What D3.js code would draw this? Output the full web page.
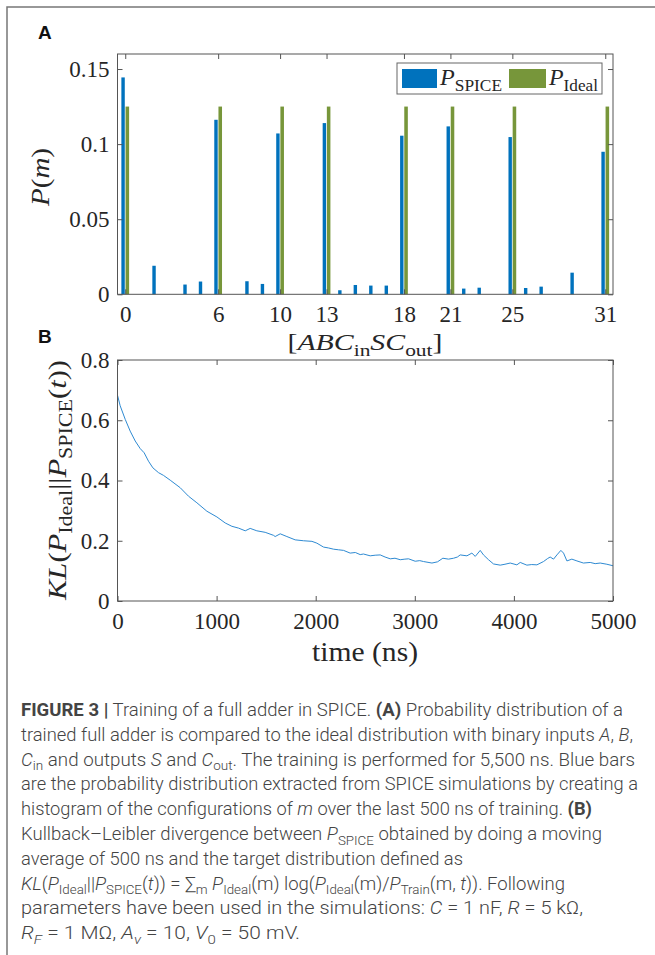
<!DOCTYPE html>
<html>
    <head>
        <meta charset="utf-8">
        <script src="https://d3js.org/d3.v7.min.js"></script>
        <style>
            body { margin: 0; background-color: white }
            svg { display: block }
        </style>
        <title>Full adder training</title>
    </head>
    <body>
        <script>
            var width = 655;
            var height = 955;

            // Panel A data: configuration index m and probabilities
            var configs = [0,1,2,3,4,5,6,7,8,9,10,11,12,13,14,15,16,17,18,19,20,21,22,23,24,25,26,27,28,29,30,31];
            var pSpice = [0.1444,0,0.0190,0,0.0065,0.0085,0.1162,0,0.0087,0.0069,0.1071,0,0,0.1140,0.0027,0.0062,
                          0.0058,0.0058,0.1056,0,0,0.1118,0.0038,0.0044,0,0.1047,0.0042,0.0051,0,0.0144,0,0.0949];
            var pIdeal = [0.125,0,0,0,0,0,0.125,0,0,0,0.125,0,0,0.125,0,0,
                          0,0,0.125,0,0,0.125,0,0,0,0.125,0,0,0,0,0,0.125];
            var xTicksA = [0,6,10,13,18,21,25,31];
            var yTicksA = [0,0.05,0.1,0.15];

            // Panel B data: KL divergence over time
            var klTime = [0,27,78,128,179,229,269,313,357,414,464,532,633,716,801,902,1003,1087,1154,1221,
                          1289,1339,1406,1490,1574,1591,1642,1709,1793,1877,1962,2012,2079,2130,2180,2230,2281,
                          2348,2400,2449,2482,2550,2600,2651,2700,2752,2800,2853,2900,2937,3004,3050,3088,3173,
                          3229,3283,3340,3391,3430,3458,3526,3576,3610,3660,3693,3744,3794,3862,3910,3963,4030,
                          4064,4131,4180,4232,4299,4340,4366,4400,4434,4474,4501,4535,4585,4636,4702,4770,4820,
                          4871,4938,5000];
            var klValue = [0.683,0.648,0.603,0.564,0.531,0.506,0.492,0.464,0.442,0.426,0.417,0.401,0.376,0.348,
                           0.326,0.298,0.279,0.259,0.248,0.242,0.233,0.241,0.233,0.228,0.218,0.214,0.223,0.214,
                           0.203,0.200,0.198,0.192,0.179,0.176,0.172,0.170,0.168,0.159,0.161,0.154,0.156,0.150,
                           0.152,0.153,0.146,0.140,0.142,0.137,0.139,0.140,0.132,0.134,0.131,0.126,0.130,0.142,
                           0.139,0.142,0.146,0.153,0.150,0.159,0.148,0.168,0.153,0.137,0.123,0.119,0.122,0.126,
                           0.120,0.128,0.119,0.121,0.120,0.131,0.141,0.146,0.139,0.153,0.168,0.159,0.133,0.139,
                           0.133,0.126,0.128,0.124,0.126,0.122,0.117];
            var xTicksB = [0,1000,2000,3000,4000,5000];
            var yTicksB = [0,0.2,0.4,0.6,0.8];

            // caption, one entry per line: [text, style] where i=italic b=bold s=subscript
            var caption = [
                [["FIGURE 3 |","b"],[" Training of a full adder in SPICE. ",""],["(A)","b"],[" Probability distribution of a",""]],
                [["trained full adder is compared to the ideal distribution with binary inputs ",""],["A","i"],[", ",""],["B","i"],[",",""]],
                [["C","i"],["in","s"],[" and outputs ",""],["S","i"],[" and ",""],["C","i"],["out","s"],[". The training is performed for 5,500 ns. Blue bars",""]],
                [["are the probability distribution extracted from SPICE simulations by creating a",""]],
                [["histogram of the configurations of ",""],["m","i"],[" over the last 500 ns of training. ",""],["(B)","b"]],
                [["Kullback–Leibler divergence between ",""],["P","i"],["SPICE","s"],[" obtained by doing a moving",""]],
                [["average of 500 ns and the target distribution defined as",""]],
                [["KL","i"],["(",""],["P","i"],["Ideal","s"],["||",""],["P","i"],["SPICE","s"],["(",""],["t","i"],[")) = ∑",""],["m","s"],[" ",""],["P","i"],["Ideal","s"],["(m) log(",""],["P","i"],["Ideal","s"],["(m)/",""],["P","i"],["Train","s"],["(m, ",""],["t","i"],[")). Following",""]],
                [["parameters have been used in the simulations: ",""],["C","i"],[" = 1 nF, ",""],["R","i"],[" = 5 kΩ,",""]],
                [["R","i"],["F","si"],[" = 1 MΩ, ",""],["A","i"],["v","si"],[" = 10, ",""],["V","i"],["0","s"],[" = 50 mV.",""]]
            ];
            var captionEnds = [623,633,635,638,592,602,463,565,583,300];

            var serif = "'Liberation Serif', 'Times New Roman', serif";
            var ink = "#262626";

            var svg = d3.select("body")
                .append("svg")
                .attr("width", width)
                .attr("height", height);

            svg.append("rect").attr("width", width).attr("height", height).attr("fill", "white");

            // page frame
            svg.append("path")
                .attr("d", "M7," + height + "V7H" + width)
                .attr("fill", "none")
                .attr("stroke", "#777")
                .attr("stroke-width", 1.5);

            // write text made of styled pieces
            function rich(sel, parts, size) {
                var shift = 0;
                parts.forEach(function (p) {
                    var sub = p[1].indexOf("s") >= 0;
                    var target = sub ? size * 0.25 : 0;
                    var t = sel.append("tspan").text(p[0]).attr("dy", target - shift);
                    shift = target;
                    if (sub) t.attr("font-size", size * 0.72);
                    if (p[1].indexOf("i") >= 0) t.attr("font-style", "italic");
                    if (p[1].indexOf("b") >= 0) t.attr("font-weight", "bold");
                });
            }

            function styleAxis(g) {
                g.select(".domain").remove();
                g.selectAll(".tick line").attr("stroke", "#555");
                g.selectAll("text")
                    .attr("font-family", serif)
                    .attr("font-size", 23)
                    .attr("fill", ink);
            }

            // ---------- Panel A ----------
            var xA = d3.scaleLinear().domain([-0.5, 31.5]).range([117.5, 613]);
            var yA = d3.scaleLinear().domain([0, 0.16]).range([294.3, 54]);

            var gA = svg.append("g");

            gA.selectAll(".spice")
                .data(configs)
                .enter()
                .append("rect")
                .attr("x", function (m) { return xA(m - 0.25); })
                .attr("width", function (m) { return xA(m - 0.03) - xA(m - 0.25); })
                .attr("y", function (m) { return yA(pSpice[m]); })
                .attr("height", function (m) { return yA(0) - yA(pSpice[m]); })
                .attr("fill", "#0072BD");

            gA.selectAll(".ideal")
                .data(configs)
                .enter()
                .append("rect")
                .attr("x", function (m) { return xA(m + 0.02); })
                .attr("width", function (m) { return xA(m + 0.25) - xA(m + 0.02); })
                .attr("y", function (m) { return yA(pIdeal[m]); })
                .attr("height", function (m) { return yA(0) - yA(pIdeal[m]); })
                .attr("fill", "#77963A");

            gA.append("g")
                .attr("transform", "translate(0," + yA(0) + ")")
                .call(d3.axisBottom(xA).tickValues(xTicksA).tickSize(-5).tickPadding(11))
                .call(styleAxis);
            gA.append("g")
                .attr("transform", "translate(0," + yA.range()[1] + ")")
                .call(d3.axisTop(xA).tickValues(xTicksA).tickSize(-5).tickFormat(""))
                .call(styleAxis);
            gA.append("g")
                .attr("transform", "translate(" + xA.range()[0] + ",0)")
                .call(d3.axisLeft(yA).tickValues(yTicksA).tickSize(-5).tickPadding(8)
                    .tickFormat(function (d) { return String(+d.toFixed(2)); }))
                .call(styleAxis);
            gA.append("g")
                .attr("transform", "translate(" + xA.range()[1] + ",0)")
                .call(d3.axisRight(yA).tickValues(yTicksA).tickSize(-5).tickFormat(""))
                .call(styleAxis);

            gA.append("rect")
                .attr("x", xA.range()[0]).attr("y", yA.range()[1])
                .attr("width", xA.range()[1] - xA.range()[0])
                .attr("height", yA.range()[0] - yA.range()[1])
                .attr("fill", "none").attr("stroke", "#555");

            // legend
            var leg = gA.append("g");
            leg.append("rect").attr("x", 397).attr("y", 63).attr("width", 205).attr("height", 31)
                .attr("fill", "white").attr("stroke", "#666");
            leg.append("rect").attr("x", 402).attr("y", 69).attr("width", 35).attr("height", 19).attr("fill", "#0072BD");
            leg.append("rect").attr("x", 509).attr("y", 69).attr("width", 37).attr("height", 19).attr("fill", "#77963A");
            leg.append("text").attr("x", 440).attr("y", 85).attr("font-family", serif).attr("font-size", 23)
                .attr("fill", ink).attr("textLength", 62).attr("lengthAdjust", "spacingAndGlyphs")
                .call(rich, [["P","i"],["SPICE","s"]], 23);
            leg.append("text").attr("x", 549).attr("y", 85).attr("font-family", serif).attr("font-size", 23)
                .attr("fill", ink).attr("textLength", 49).attr("lengthAdjust", "spacingAndGlyphs")
                .call(rich, [["P","i"],["Ideal","s"]], 23);

            // axis labels A
            svg.append("text")
                .attr("transform", "translate(49,177) rotate(-90)")
                .attr("text-anchor", "middle")
                .attr("font-family", serif).attr("font-size", 25).attr("fill", ink)
                .attr("textLength", 58).attr("lengthAdjust", "spacingAndGlyphs")
                .call(rich, [["P","i"],["(",""],["m","i"],[")",""]], 25);
            svg.append("text")
                .attr("x", 365).attr("y", 350)
                .attr("text-anchor", "middle")
                .attr("font-family", serif).attr("font-size", 24).attr("fill", ink)
                .attr("textLength", 155).attr("lengthAdjust", "spacingAndGlyphs")
                .call(rich, [["[",""],["ABC","i"],["in","s"],["SC","i"],["out","s"],["]",""]], 24);

            // ---------- Panel B ----------
            var xB = d3.scaleLinear().domain([0, 5000]).range([117.5, 613]);
            var yB = d3.scaleLinear().domain([0, 0.8]).range([601, 360]);
            var gB = svg.append("g");

            gB.append("g")
                .attr("transform", "translate(0," + yB(0) + ")")
                .call(d3.axisBottom(xB).tickValues(xTicksB).tickSize(-5).tickPadding(12).tickFormat(d3.format("d")))
                .call(styleAxis);
            gB.append("g")
                .attr("transform", "translate(0," + yB.range()[1] + ")")
                .call(d3.axisTop(xB).tickValues(xTicksB).tickSize(-5).tickFormat(""))
                .call(styleAxis);
            gB.append("g")
                .attr("transform", "translate(" + xB.range()[0] + ",0)")
                .call(d3.axisLeft(yB).tickValues(yTicksB).tickSize(-5).tickPadding(8)
                    .tickFormat(function (d) { return String(+d.toFixed(1)); }))
                .call(styleAxis);
            gB.append("g")
                .attr("transform", "translate(" + xB.range()[1] + ",0)")
                .call(d3.axisRight(yB).tickValues(yTicksB).tickSize(-5).tickFormat(""))
                .call(styleAxis);

            var line = d3.line()
                .x(function (d, i) { return xB(klTime[i]); })
                .y(function (d) { return yB(d); });

            gB.append("path")
                .datum(klValue)
                .attr("d", line)
                .attr("fill", "none")
                .attr("stroke", "#2e8ad2")
                .attr("stroke-width", 1);

            gB.append("rect")
                .attr("x", xB.range()[0]).attr("y", yB.range()[1])
                .attr("width", xB.range()[1] - xB.range()[0])
                .attr("height", yB.range()[0] - yB.range()[1])
                .attr("fill", "none").attr("stroke", "#555");

            svg.append("text")
                .attr("transform", "translate(66,480) rotate(-90)")
                .attr("text-anchor", "middle")
                .attr("font-family", serif).attr("font-size", 25).attr("fill", ink)
                .attr("textLength", 240).attr("lengthAdjust", "spacingAndGlyphs")
                .call(rich, [["KL","i"],["(",""],["P","i"],["Ideal","s"],["||",""],["P","i"],["SPICE","s"],["(",""],["t","i"],["))",""]], 25);
            svg.append("text")
                .attr("x", 365).attr("y", 661)
                .attr("text-anchor", "middle")
                .attr("font-family", serif).attr("font-size", 27).attr("fill", ink)
                .attr("textLength", 106).attr("lengthAdjust", "spacingAndGlyphs")
                .text("time (ns)");

            // panel letters
            svg.append("text").attr("x", 38).attr("y", 39).text("A")
                .attr("font-family", "'Liberation Sans', Arial, sans-serif").attr("font-weight", "bold")
                .attr("font-size", 19).attr("fill", "#111");
            svg.append("text").attr("x", 38).attr("y", 343).text("B")
                .attr("font-family", "'Liberation Sans', Arial, sans-serif").attr("font-weight", "bold")
                .attr("font-size", 19).attr("fill", "#111");

            // ---------- Caption ----------
            var cap = svg.append("g")
                .attr("font-family", "'Liberation Sans Narrow', Roboto, 'Liberation Sans', sans-serif")
                .attr("font-size", 18)
                .attr("font-weight", 300)
                .attr("fill", "#444");

            caption.forEach(function (parts, i) {
                cap.append("text")
                    .attr("x", 21)
                    .attr("y", 716 + i * 24.8)
                    .attr("textLength", captionEnds[i] - 21)
                    .attr("lengthAdjust", "spacingAndGlyphs")
                    .call(rich, parts, 18);
            });
        </script>
    </body>
</html>
